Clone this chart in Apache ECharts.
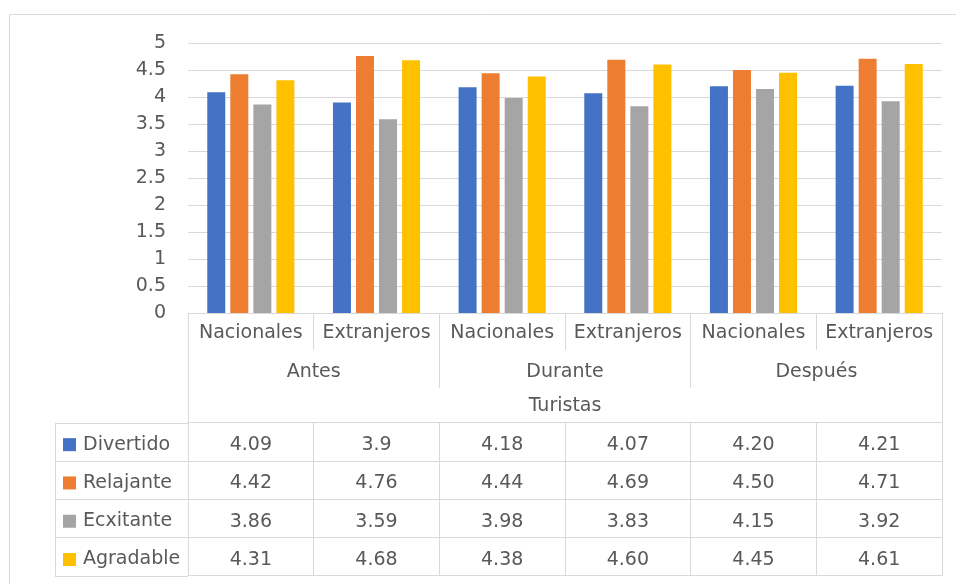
<!DOCTYPE html>
<html>
<head>
<meta charset="utf-8">
<script src="https://cdn.jsdelivr.net/npm/echarts@6/dist/echarts.min.js"></script>
<style>
  html, body { margin: 0; padding: 0; background: #fff; }
  #chart { width: 956px; height: 584px; }
</style>
</head>
<body>
<div id="chart"></div>
<script>
// Category levels of the axis
const subGroups = ['Nacionales', 'Extranjeros', 'Nacionales', 'Extranjeros', 'Nacionales', 'Extranjeros'];
const periods = ['Antes', 'Durante', 'Después'];
const groupTitle = ['Turistas'];

// Series (values kept as displayed in the data table)
const seriesNames = ['Divertido', 'Relajante', 'Ecxitante', 'Agradable'];
const divertido = ['4.09', '3.9', '4.18', '4.07', '4.20', '4.21'];
const relajante = ['4.42', '4.76', '4.44', '4.69', '4.50', '4.71'];
const ecxitante = ['3.86', '3.59', '3.98', '3.83', '4.15', '3.92'];
const agradable = ['4.31', '4.68', '4.38', '4.60', '4.45', '4.61'];
const rows = [divertido, relajante, ecxitante, agradable];

// Value axis range
const yMin = 0, yMax = 5, yStep = 0.5;

// Styling / layout
const colors = ['#4472C4', '#ED7D31', '#A5A5A5', '#FFC000'];
const FONT = 'DejaVu Sans';
const FS = 19;
const TXT = '#595959';
const LINE = '#D9D9D9';
const W = 956, H = 584;
const plot = { left: 188, right: 942, top: 43, bottom: 313 };
const L1 = 37, L2 = 75, L3 = 109.5, ROW = 38.3;
const tableLeft = 55;

const label = (margin) => ({
  show: true, interval: 0, margin: margin,
  fontFamily: FONT, fontSize: FS, color: TXT
});
const tick = (len) => ({
  show: true, interval: 0, length: len, lineStyle: { color: LINE, width: 1 }
});

const xAxes = [
  { type: 'category', data: subGroups, position: 'bottom',
    axisLine: { show: true, lineStyle: { color: LINE } },
    axisTick: tick(L1), axisLabel: label(11) },
  { type: 'category', data: periods, position: 'bottom',
    axisLine: { show: false }, axisTick: tick(L2), axisLabel: label(50) },
  { type: 'category', data: groupTitle, position: 'bottom',
    axisLine: { show: false }, axisTick: tick(L3), axisLabel: label(84) }
];
rows.forEach((r, k) => {
  xAxes.push({
    type: 'category', data: r, position: 'bottom', offset: L3 + ROW * k,
    axisLine: { show: true, lineStyle: { color: LINE } },
    axisTick: tick(ROW), axisLabel: label(13)
  });
});
xAxes.push({
  type: 'category', data: [''], position: 'bottom', offset: L3 + ROW * rows.length,
  axisLine: { show: true, lineStyle: { color: LINE } },
  axisTick: { show: false }, axisLabel: { show: false }
});

// Frame lines of the legend column of the data table
const tableTop = plot.bottom + L3;
const frame = [];
for (let k = 0; k <= rows.length; k++) {
  const y = Math.round(tableTop + ROW * k) + 0.5;
  frame.push({ type: 'line', shape: { x1: tableLeft, y1: y, x2: plot.left, y2: y },
               style: { stroke: LINE, lineWidth: 1 }, silent: true });
}
frame.push({ type: 'line',
  shape: { x1: tableLeft + 0.5, y1: tableTop, x2: tableLeft + 0.5, y2: tableTop + ROW * rows.length },
  style: { stroke: LINE, lineWidth: 1 }, silent: true });
// Outer chart border
frame.push({ type: 'rect', shape: { x: 9.5, y: 14.5, width: W + 20, height: H + 20 },
  style: { stroke: LINE, fill: 'none', lineWidth: 1 }, silent: true });

const chart = echarts.init(document.getElementById('chart'), null, { renderer: 'canvas' });
chart.setOption({
  animation: false,
  color: colors,
  grid: { left: plot.left, right: W - plot.right, top: plot.top, bottom: H - plot.bottom, containLabel: false },
  legend: {
    orient: 'vertical', left: 63, top: tableTop + ROW / 2 - 6.5, padding: 0,
    icon: 'rect', itemWidth: 13, itemHeight: 13, itemGap: ROW - 19,
    selectedMode: false, data: seriesNames,
    textStyle: { fontFamily: FONT, fontSize: FS, color: TXT, lineHeight: 19, padding: [0, 0, 0, 2] }
  },
  xAxis: xAxes,
  yAxis: {
    type: 'value', min: yMin, max: yMax, interval: yStep,
    axisLine: { show: false }, axisTick: { show: false },
    axisLabel: { margin: 22, fontFamily: FONT, fontSize: FS, color: TXT },
    splitLine: { show: true, lineStyle: { color: LINE, width: 1 } }
  },
  series: seriesNames.map((name, i) => ({
    name: name, type: 'bar', xAxisIndex: 0,
    data: rows[i].map(Number),
    barWidth: 18, barGap: '28%'
  })),
  graphic: frame
});
</script>
</body>
</html>
